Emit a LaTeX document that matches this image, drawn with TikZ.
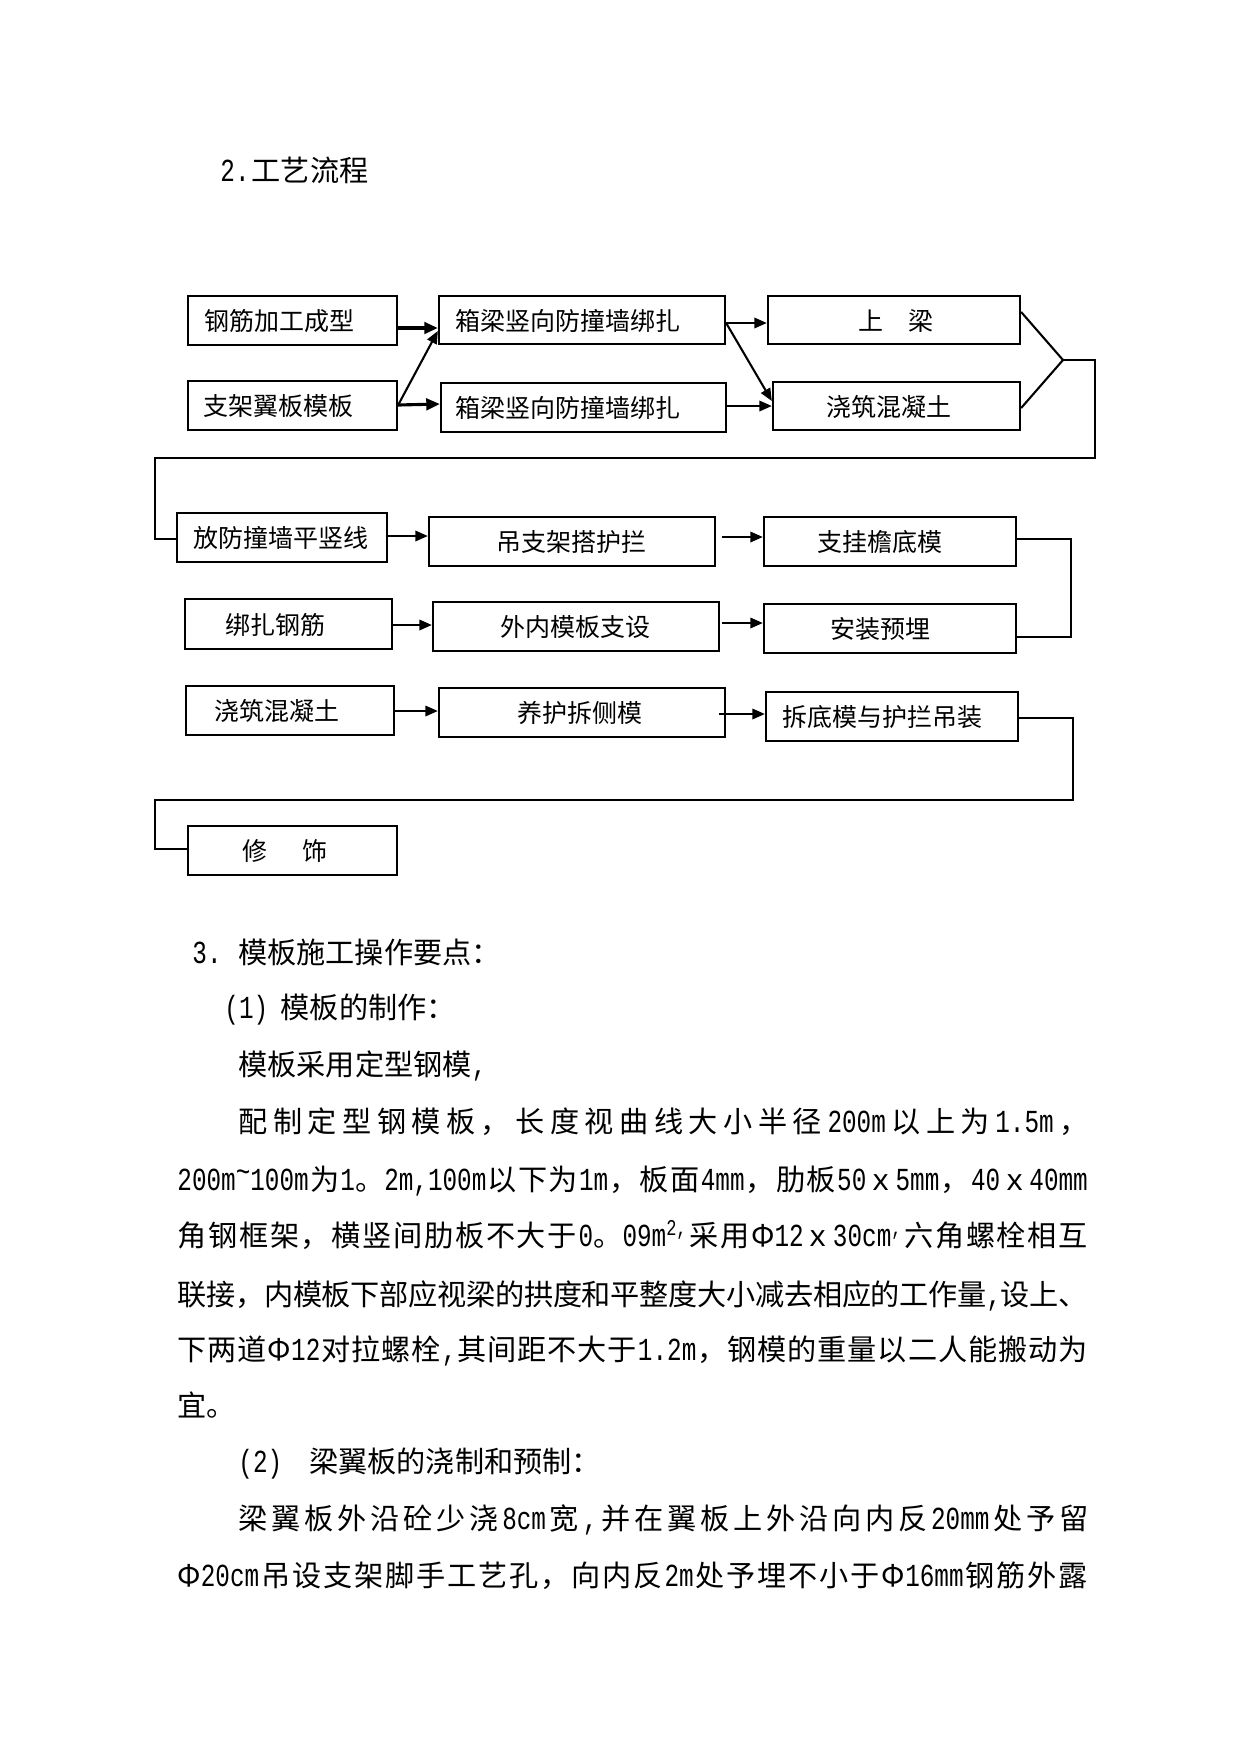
\documentclass[tikz,border=0pt]{standalone}
\usepackage{fontspec}
\usepackage{graphicx}
\setmainfont{Noto Sans CJK SC}
\newfontfamily\ascf{Liberation Mono}[Scale=1.1,FakeStretch=0.758]
\newcommand\A[1]{{\ascf #1}}
\makeatletter
\def\sprd#1{\sprd@a#1\relax}
\def\sprd@a#1{\ifx\relax#1\else#1\hskip 0pt plus 1fil minus 1pt\relax\expandafter\sprd@a\fi}
\makeatother
\usetikzlibrary{arrows.meta,calc}
\tikzset{
  box/.style={draw, line width=1.1pt, inner sep=0pt},
  lbl/.style={inner sep=0pt, font=\fontsize{12pt}{14pt}\selectfont, text height=10.5pt, text depth=1.5pt},
  txt/.style={anchor=west, inner sep=0pt, font=\fontsize{14pt}{16pt}\selectfont, text height=12.3pt, text depth=1.7pt},
  arr/.style={line width=1pt, -{Triangle[length=6pt,width=5pt]}},
  arrb/.style={line width=1.5pt, -{Triangle[length=6.5pt,width=5.5pt]}},
  ln/.style={line width=1pt},
  lnt/.style={line width=0.7pt}
}
\newcommand\bx[7]{%
  \node[box, minimum width={(#4-#2)*0.48pt}, minimum height={(#5-#3)*0.48pt}] (#1) at ({(#2+#4)/2},{(#3+#5)/2}) {};
  \node[lbl] (#1t) at (#6,{(#3+#5)/2+1}) {#7};}
\begin{document}
\begin{tikzpicture}[x=0.48pt,y=-0.48pt]
\path[use as bounding box, fill=white] (0,0) rectangle (1241,1755);

% boxes
\bx{b1}{188}{296}{397}{345}{279}{钢筋加工成型}
\bx{b2}{188}{381}{397}{430}{278}{支架翼板模板}
\bx{b3}{439}{296}{725}{344}{568}{箱梁竖向防撞墙绑扎}
\bx{b4}{441}{383}{726}{432}{568}{箱梁竖向防撞墙绑扎}
\bx{b5}{768}{296}{1020}{344}{896}{上\hspace{12pt}梁}
\bx{b6}{773}{382}{1020}{430}{889}{浇筑混凝土}
\bx{c1}{177}{513}{387}{562}{281}{放防撞墙平竖线}
\bx{c2}{429}{517}{715}{566}{571}{吊支架搭护拦}
\bx{c3}{764}{517}{1016}{566}{880}{支挂檐底模}
\bx{d1}{185}{599}{392}{649}{275}{绑扎钢筋}
\bx{d2}{433}{602}{719}{651}{575}{外内模板支设}
\bx{d3}{764}{604}{1016}{653}{880}{安装预埋}
\bx{e1}{186}{686}{394}{735}{277}{浇筑混凝土}
\bx{e2}{439}{688}{725}{737}{580}{养护拆侧模}
\bx{e3}{766}{692}{1018}{741}{882}{拆底模与护拦吊装}
\bx{f1}{188}{826}{397}{875}{285}{修\hspace{17pt}饰}

% row 1 connectors
\draw[arrb] (b1.east |- 0,328) -- (b3.west |- 0,328);
\draw[arr] (b2.east |- 0,405) -- (b3.west |- 0,331);
\draw[arrb] (b2.east |- 0,405) -- (b4.west |- 0,404);
\draw[arr] (b3.east |- 0,323) -- (b5.west |- 0,323);
\draw[arr] (b3.east |- 0,323) -- (b6.west |- 0,401);
\draw[arr] (b4.east |- 0,406) -- (b6.west |- 0,406);
\coordinate (m1) at (1063,360);
\draw[ln] (b5.east |- 0,312) -- (m1) -- (b6.east |- 0,408);
\draw[ln] (m1) -- (1095,360) -- (1095,458) -- (155,458) |- (c1.west |- 0,539);

% row 2
\draw[arr] (c1.east |- 0,536) -- (c2.west |- 0,536);
\draw[arr] ($(c2.east |- 0,537)+(6,0)$) -- (c3.west |- 0,537);
% row 3
\draw[arr] (d1.east |- 0,625) -- (d2.west |- 0,625);
\draw[arr] ($(d2.east |- 0,623)+(2,0)$) -- (d3.west |- 0,623);
\draw[lnt] (c3.east |- 0,539) -- (1071,539) -- (1071,637) -- (d3.east |- 0,637);
% row 4
\draw[arr] (e1.east |- 0,711) -- (e2.west |- 0,711);
\draw[arr] ($(e2.east |- 0,714)+(-7,0)$) -- (e3.west |- 0,714);
\draw[ln] (e3.east |- 0,718) -- (1073,718) -- (1073,800) -- (155,800) |- (f1.west |- 0,849);

% texts
\node[txt] (t0) at (220,170) {\hbox to 15pt{\A{2.}\hss}工艺流程};
\node[txt] (p0) at (192,952) {\hbox to 22pt{\A{3.}\hss}模板施工操作要点：};
\node[txt] (p1) at (224,1007) {\hbox to 27pt{\A{(1)}\hss}模板的制作：};
\node[txt] (p2) at (238,1064) {模板采用定型钢模\A{,}};
\node[txt] (p3) at (238,1121) {\hbox to 408pt{\sprd{配制定型钢模板，长度视曲线大小半径{\A{200m}}以上为{\A{1.5m}}，}\unskip}};
\node[txt] (p4) at (177,1179) {\hbox to 437pt{\sprd{{\A{200m\raisebox{0.25em}{\textasciitilde}100m}}为{\A{1}。\A{2m,100m}}以下为{\A{1m}}，板面{\A{4mm}}，肋板{\A{50}ｘ\A{5mm}}，{\A{40}ｘ\A{40mm}}}\unskip}};
\node[txt] (p5) at (177,1235) {\hbox to 437pt{\sprd{角钢框架，横竖间肋板不大于{\A{0}。\A{09m}\textsuperscript{\A{2,}}}采用{Φ\A{12}ｘ\A{30cm}\textsuperscript{\A{,}}}六角螺栓相互}\unskip}};
\node[txt] (p6) at (177,1294) {\hbox to 437pt{\sprd{联接，内模板下部应视梁的拱度和平整度大小减去相应的工作量{\A{,}}设上、}\unskip}};
\node[txt] (p7) at (177,1349) {\hbox to 437pt{\sprd{下两道{Φ\A{12}}对拉螺栓{\A{,}}其间距不大于{\A{1.2m}}，钢模的重量以二人能搬动为}\unskip}};
\node[txt] (p8) at (177,1405) {宜。};
\node[txt] (p9) at (238,1461) {\hbox to 34pt{\A{(2)}\hss}梁翼板的浇制和预制：};
\node[txt] (p10) at (238,1518) {\hbox to 408pt{\sprd{梁翼板外沿砼少浇{\A{8cm}}宽{\A{,}}并在翼板上外沿向内反{\A{20mm}}处予留}\unskip}};
\node[txt] (p11) at (177,1575) {\hbox to 437pt{\sprd{{Φ\A{20cm}}吊设支架脚手工艺孔，向内反{\A{2m}}处予埋不小于{Φ\A{16mm}}钢筋外露}\unskip}};
\end{tikzpicture}
\end{document}
